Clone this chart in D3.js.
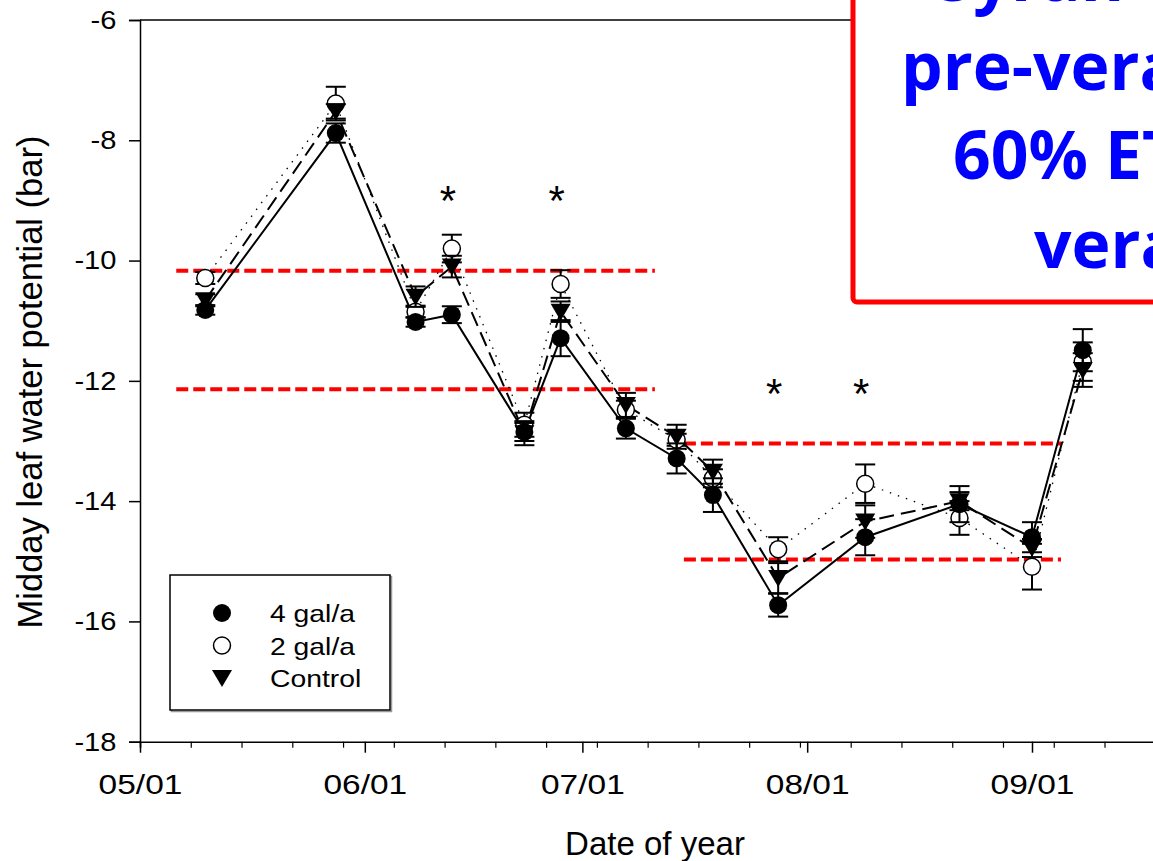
<!DOCTYPE html>
<html>
<head>
<meta charset="utf-8">
<script src="https://cdn.jsdelivr.net/npm/d3@7"></script>
<style>
  body { margin: 0; background: #fff; }
  svg { display: block; font-family: "Liberation Sans", Arial, sans-serif; }
</style>
</head>
<body>
<div id="chart"></div>
<script>
// sampling dates (mm/dd) and the three treatments
const dates = ["05/10", "05/28", "06/08", "06/13", "06/23", "06/28", "07/07", "07/14", "07/19", "07/28", "08/09", "08/22", "09/01", "09/08"];
const gal4 = [-10.82, -7.88, -11.02, -10.9, -12.85, -11.29, -12.79, -13.29, -13.9, -15.73, -14.6, -14.05, -14.6, -11.49];
const gal4Err = [0.08, 0.16, 0.08, 0.14, 0.15, 0.3, 0.17, 0.25, 0.28, 0.19, 0.3, 0.3, 0.25, 0.35];
const gal2 = [-10.29, -7.39, -10.85, -9.8, -12.73, -10.39, -12.48, -12.98, -13.62, -14.8, -13.71, -14.28, -15.09, -11.68];
const gal2Err = [0.1, 0.28, 0.1, 0.23, 0.2, 0.23, 0.15, 0.1, 0.15, 0.2, 0.32, 0.28, 0.38, 0.32];
const control = [-10.66, -7.52, -10.6, -10.1, -12.87, -10.85, -12.4, -12.93, -13.51, -15.28, -14.34, -14.0, -14.78, -11.82];
const controlErr = [0.1, 0.12, 0.17, 0.18, 0.2, 0.17, 0.2, 0.2, 0.2, 0.25, 0.27, 0.15, 0.15, 0.28];

// significance stars
const starDates = ["06/13", "06/28", "07/28", "08/09"];
const starY = [-8.85, -8.85, -12.05, -12.05];

// red dashed threshold lines
const refY = [-10.17, -12.14, -13.04, -14.97];
const refFrom = ["05/06", "05/06", "07/15", "07/15"];
const refTo = ["07/11", "07/11", "09/05", "09/05"];

const yTicks = [-18, -16, -14, -12, -10, -8, -6];
const monthTicks = ["05/01", "06/01", "07/01", "08/01", "09/01"];

const boxLines = ["Syrah", "pre-veraison", "60% ETc", "veraison"];

const width = 1153, height = 861;
const parseDay = s => {
    const [m, d] = s.split("/").map(Number);
    return new Date(Date.UTC(2013, m - 1, d));
};

const x = d3.scaleUtc()
    .domain([parseDay("05/01"), parseDay("10/01")])
    .range([140, 140 + 153 * 7.252]);
const y = d3.scaleLinear()
    .domain([-18, -6])
    .range([741.7, 20]);

const svg = d3.select("#chart").append("svg")
    .attr("width", width)
    .attr("height", height);

// top frame line
svg.append("line")
    .attr("x1", x.range()[0]).attr("x2", width)
    .attr("y1", y(-6)).attr("y2", y(-6))
    .attr("stroke", "#000").attr("stroke-width", 1.5);

// y axis
const yAxis = svg.append("g")
    .attr("transform", `translate(${x.range()[0]},0)`)
    .call(d3.axisLeft(y).tickValues(yTicks).tickFormat(d => String(d)).tickSize(11).tickPadding(10));
yAxis.select(".domain").attr("stroke-width", 1.5);
yAxis.selectAll(".tick line").attr("stroke-width", 1.5);
yAxis.selectAll("text")
    .attr("font-size", 26)
    .attr("font-family", "Liberation Sans, Arial, sans-serif")
    .attr("transform", "scale(1.12,1)");

// x axis, weekly minor ticks then monthly major ticks
const weekTicks = d3.range(0, 22).map(i => d3.utcDay.offset(parseDay("05/01"), i * 7));
const xMinor = svg.append("g")
    .attr("transform", `translate(0,${y(-18)})`)
    .call(d3.axisBottom(x).tickValues(weekTicks).tickSize(6).tickFormat(""));
xMinor.select(".domain").attr("stroke-width", 1.5);
xMinor.selectAll(".tick line").attr("stroke-width", 1.2);

const xAxis = svg.append("g")
    .attr("transform", `translate(0,${y(-18)})`)
    .call(d3.axisBottom(x).tickValues(monthTicks.map(parseDay)).tickSize(11).tickFormat(d3.utcFormat("%m/%d")));
xAxis.select(".domain").remove();
xAxis.selectAll(".tick line").attr("stroke-width", 1.5);
xAxis.selectAll("text")
    .attr("font-size", 27)
    .attr("font-family", "Liberation Sans, Arial, sans-serif")
    .attr("dy", null)
    .attr("y", 52)
    .attr("transform", "scale(1.24,1)");

// axis titles
svg.append("text")
    .attr("x", 655).attr("y", 855)
    .attr("text-anchor", "middle")
    .attr("font-size", 33)
    .text("Date of year");
svg.append("text")
    .attr("transform", "translate(42,382) rotate(-90)")
    .attr("text-anchor", "middle")
    .attr("font-size", 34.5)
    .text("Midday leaf water potential (bar)");

// red dashed lines
svg.append("g").selectAll("line")
    .data(refY)
    .join("line")
    .attr("x1", (d, i) => x(parseDay(refFrom[i])))
    .attr("x2", (d, i) => x(parseDay(refTo[i])))
    .attr("y1", d => y(d)).attr("y2", d => y(d))
    .attr("stroke", "#ff0000")
    .attr("stroke-width", 4)
    .attr("stroke-dasharray", "12,5");

const series = [
    {name: "2 gal/a", values: gal2, err: gal2Err, dash: "1.5,7", width: 1.3, symbol: "open"},
    {name: "Control", values: control, err: controlErr, dash: "15,7", width: 2, symbol: "tri"},
    {name: "4 gal/a", values: gal4, err: gal4Err, dash: null, width: 2, symbol: "filled"}
];

const line = d3.line()
    .x(d => x(parseDay(d.date)))
    .y(d => y(d.v));

series.forEach(s => {
    s.pts = dates.map((d, i) => ({date: d, v: s.values[i], e: s.err[i]}));
    svg.append("path")
        .attr("fill", "none")
        .attr("stroke", "#000")
        .attr("stroke-width", s.width)
        .attr("stroke-dasharray", s.dash)
        .attr("d", line(s.pts));
});

const triPath = "M-10,-8L10,-8L0,9Z";
function drawSymbol(g, kind) {
    if (kind === "filled") {
        g.append("circle").attr("r", 9).attr("fill", "#000");
    } else if (kind === "open") {
        g.append("circle").attr("r", 8.5).attr("fill", "#fff").attr("stroke", "#000").attr("stroke-width", 1.5);
    } else {
        g.append("path").attr("d", triPath).attr("fill", "#000");
    }
}

series.forEach(s => {
    const eb = svg.append("g").attr("stroke", "#000").attr("stroke-width", 2);
    s.pts.forEach(p => {
        const cx = x(parseDay(p.date));
        const y0 = y(p.v - p.e), y1 = y(p.v + p.e);
        eb.append("line").attr("x1", cx).attr("x2", cx).attr("y1", y0).attr("y2", y1);
        eb.append("line").attr("x1", cx - 10).attr("x2", cx + 10).attr("y1", y0).attr("y2", y0);
        eb.append("line").attr("x1", cx - 10).attr("x2", cx + 10).attr("y1", y1).attr("y2", y1);
    });
    svg.append("g").selectAll("g")
        .data(s.pts)
        .join("g")
        .attr("transform", p => `translate(${x(parseDay(p.date))},${y(p.v)})`)
        .each(function () { drawSymbol(d3.select(this), s.symbol); });
});

// stars
svg.append("g").selectAll("text")
    .data(starY)
    .join("text")
    .attr("x", (d, i) => x(parseDay(starDates[i])) - 4)
    .attr("y", d => y(d) + 24)
    .attr("text-anchor", "middle")
    .attr("font-size", 42)
    .text("*");

// legend
const legend = svg.append("g").attr("transform", "translate(170,575)");
legend.append("rect")
    .attr("x", 1.5).attr("y", 1.5)
    .attr("width", 220).attr("height", 135)
    .attr("fill", "none").attr("stroke", "#999").attr("stroke-width", 1.5);
legend.append("rect")
    .attr("width", 220).attr("height", 135)
    .attr("fill", "#fff").attr("stroke", "#000").attr("stroke-width", 1.5);
const legendItems = [
    {label: "4 gal/a", symbol: "filled"},
    {label: "2 gal/a", symbol: "open"},
    {label: "Control", symbol: "tri"}
];
legendItems.forEach((it, i) => {
    const g = legend.append("g").attr("transform", `translate(52,${38 + i * 32.5})`);
    drawSymbol(g, it.symbol);
    legend.append("text")
        .attr("transform", `translate(100,${47 + i * 32.5}) scale(1.18,1)`)
        .attr("font-size", 24)
        .text(it.label);
});

// red annotation box (slide overlay)
svg.append("rect")
    .attr("x", 853).attr("y", -20)
    .attr("width", 420).attr("height", 322)
    .attr("rx", 4)
    .attr("fill", "#fff")
    .attr("stroke", "#ff0000")
    .attr("stroke-width", 5);
const boxX = [937, 901, 953, 1034];
svg.append("g")
    .attr("font-family", "'Open Sans', 'Noto Sans', sans-serif")
    .attr("font-weight", "bold")
    .attr("font-size", 66)
    .attr("fill", "#0000ff")
    .selectAll("text")
    .data(boxLines)
    .join("text")
    .attr("x", (d, i) => boxX[i])
    .attr("y", (d, i) => 1 + i * 89)
    .text(d => d);
</script>
</body>
</html>
